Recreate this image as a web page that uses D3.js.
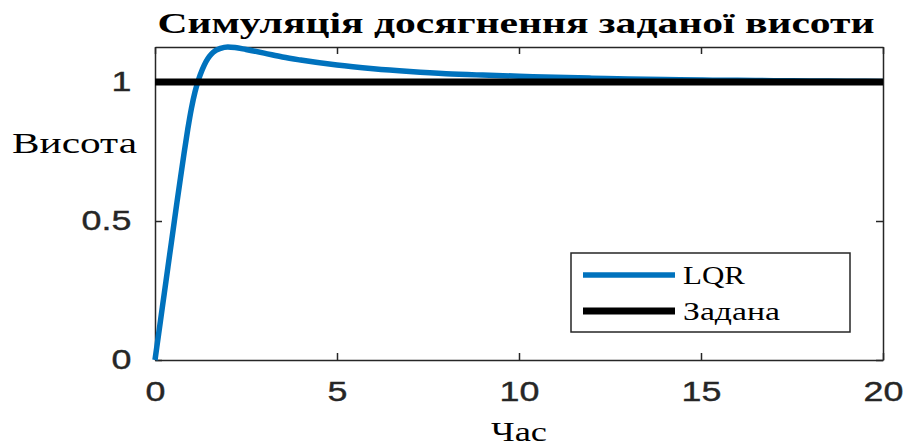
<!DOCTYPE html>
<html>
<head>
<meta charset="utf-8">
<script src="https://cdn.jsdelivr.net/npm/d3@7"></script>
<style>
  html, body { margin: 0; padding: 0; background: #fff; }
  svg { display: block; }
</style>
</head>
<body>
<svg id="chart" width="904" height="448"></svg>
<script>
// Step response of the altitude controller (LQR) versus the setpoint
const timeS = [0, 0.1, 0.2, 0.3, 0.4, 0.5, 0.6, 0.7, 0.8, 0.9, 1.0, 1.1, 1.2, 1.3, 1.4, 1.5, 1.6, 1.8, 2.0, 2.2, 2.5, 3, 3.5, 4, 5, 6, 7, 8, 9, 10, 11, 12, 13, 14, 15, 16, 17, 18, 19, 20];
const heightLQR = [0, 0.094, 0.188, 0.282, 0.376, 0.47, 0.564, 0.655, 0.745, 0.83, 0.905, 0.965, 1.01, 1.045, 1.073, 1.093, 1.107, 1.121, 1.126, 1.124, 1.117, 1.104, 1.09, 1.079, 1.061, 1.048, 1.038, 1.030, 1.025, 1.021, 1.017, 1.014, 1.011, 1.009, 1.007, 1.006, 1.005, 1.004, 1.003, 1.002];
const setpointTime = [0, 20];
const setpointValue = [1, 1];
const xTicks = [0, 5, 10, 15, 20];
const yTicks = [0, 0.5, 1];
const seriesNames = ["LQR", "Задана"];
const seriesColors = ["#0072BD", "#000000"];

const titleText = "Симуляція досягнення заданої висоти";
const xLabel = "Час";
const yLabel = "Висота";

const svg = d3.select("#chart");
const plot = { left: 155, right: 883, top: 47, bottom: 360 };

const x = d3.scaleLinear().domain([0, 20]).range([plot.left, plot.right]);
const y = d3.scaleLinear().domain([0, d3.max(heightLQR)]).range([plot.bottom, plot.top]);

const axisColor = "#262626";
const tickFont = "'Liberation Sans', Arial, sans-serif";
const serif = "'Liberation Serif', 'Times New Roman', 'DejaVu Serif', serif";

// Axes with inward ticks on all four sides
const gx = svg.append("g").attr("transform", `translate(0,${plot.bottom})`)
  .call(d3.axisBottom(x).tickValues(xTicks).tickSizeInner(-7).tickSizeOuter(0).tickPadding(21).tickFormat(d3.format("d")));
const gxTop = svg.append("g").attr("transform", `translate(0,${plot.top})`)
  .call(d3.axisTop(x).tickValues(xTicks).tickSizeInner(-7).tickSizeOuter(0).tickFormat(""));
const gy = svg.append("g").attr("transform", `translate(${plot.left},0)`)
  .call(d3.axisLeft(y).tickValues(yTicks).tickSizeInner(-7).tickSizeOuter(0).tickPadding(18.5).tickFormat(d => d === 0 ? "0" : d === 1 ? "1" : d3.format(".1f")(d)));
const gyRight = svg.append("g").attr("transform", `translate(${plot.right},0)`)
  .call(d3.axisRight(y).tickValues(yTicks).tickSizeInner(-7).tickSizeOuter(0).tickFormat(""));

[gx, gxTop, gy, gyRight].forEach(g => {
  g.select(".domain").attr("stroke", axisColor).attr("stroke-width", 1.5);
  g.selectAll(".tick line").attr("stroke", axisColor).attr("stroke-width", 1.5);
  g.selectAll(".tick text")
    .attr("fill", "#262626")
    .attr("stroke", "#262626").attr("stroke-width", 0.4)
    .style("font-family", tickFont)
    .style("font-size", "28px");
});
gx.selectAll(".tick text").attr("transform", "scale(1.28,1)");
gy.selectAll(".tick text").attr("transform", "scale(1.28,1)");

// Data lines
const line = d3.line().x(d => x(d[0])).y(d => y(d[1])).curve(d3.curveMonotoneX);
svg.append("path")
  .datum(timeS.map((t, i) => [t, heightLQR[i]]))
  .attr("fill", "none")
  .attr("stroke", seriesColors[0])
  .attr("stroke-width", 5.5)
  .attr("stroke-linejoin", "round")
  .attr("d", line);
svg.append("path")
  .datum(setpointTime.map((t, i) => [t, setpointValue[i]]))
  .attr("fill", "none")
  .attr("stroke", seriesColors[1])
  .attr("stroke-width", 7)
  .attr("d", line);

// Title and axis labels
svg.append("text")
  .attr("x", 516).attr("y", 33)
  .attr("text-anchor", "middle")
  .attr("textLength", 717).attr("lengthAdjust", "spacingAndGlyphs")
  .style("font-family", serif).style("font-weight", "bold").style("font-size", "30px")
  .attr("fill", "#000")
  .text(titleText);

svg.append("text")
  .attr("x", 12).attr("y", 153)
  .attr("textLength", 125).attr("lengthAdjust", "spacingAndGlyphs")
  .style("font-family", serif).style("font-size", "29px")
  .attr("fill", "#000")
  .text(yLabel);

svg.append("text")
  .attr("x", 519).attr("y", 441)
  .attr("text-anchor", "middle")
  .attr("textLength", 56).attr("lengthAdjust", "spacingAndGlyphs")
  .style("font-family", serif).style("font-size", "27px")
  .attr("fill", "#000")
  .text(xLabel);

// Legend
const legend = svg.append("g");
legend.append("rect")
  .attr("x", 571).attr("y", 253).attr("width", 279).attr("height", 79)
  .attr("fill", "#fff").attr("stroke", axisColor).attr("stroke-width", 1.5);
const legendRows = [275, 311];
const legendWidths = [62, 97];
seriesNames.forEach((name, i) => {
  legend.append("line")
    .attr("x1", 583).attr("x2", 675)
    .attr("y1", legendRows[i]).attr("y2", legendRows[i])
    .attr("stroke", seriesColors[i]).attr("stroke-width", i === 0 ? 5.5 : 7);
  legend.append("text")
    .attr("x", 683).attr("y", legendRows[i] + 9)
    .attr("textLength", legendWidths[i]).attr("lengthAdjust", "spacingAndGlyphs")
    .style("font-family", serif).style("font-size", "26px")
    .attr("fill", "#000")
    .text(name);
});
</script>
</body>
</html>
